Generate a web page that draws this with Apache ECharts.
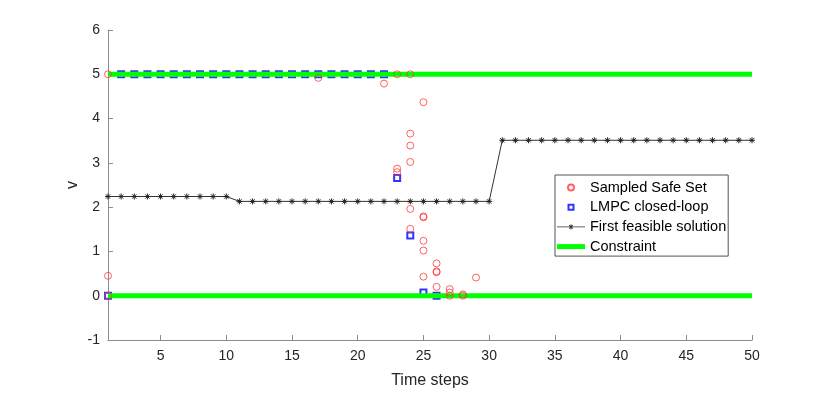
<!DOCTYPE html>
<html>
<head>
<meta charset="utf-8">
<script src="https://cdn.jsdelivr.net/npm/echarts@6/dist/echarts.min.js"></script>
<style>
  html, body { margin: 0; padding: 0; background: #fff; }
  #chart { width: 830px; height: 395px; }
</style>
</head>
<body>
<div id="chart"></div>
<script>
// data
const xTicks = [5, 10, 15, 20, 25, 30, 35, 40, 45, 50]

// Sampled Safe Set (step, v)
const safeSetStep = [1, 1, 1, 17, 22, 23, 23, 23, 24, 24, 24, 24, 24, 24, 25, 25, 25, 25, 25, 25, 26, 26, 26, 26, 27, 27, 27, 28, 28, 29]
const safeSetV = [5.0, 0.45, 0.0, 4.92, 4.79, 5.0, 2.87, 2.79, 5.0, 3.66, 3.39, 3.02, 1.96, 1.51, 4.37, 1.79, 1.77, 1.24, 1.02, 0.43, 0.73, 0.55, 0.53, 0.2, 0.15, 0.07, 0.0, 0.03, 0.0, 0.41]

// LMPC closed-loop, steps 1..26
const closedLoopV = [0, 5, 5, 5, 5, 5, 5, 5, 5, 5, 5, 5, 5, 5, 5, 5, 5, 5, 5, 5, 5, 5, 2.66, 1.36, 0.07, 0.0]

// First feasible solution, steps 1..50
const feasibleV = [
  2.24, 2.24, 2.24, 2.24, 2.24, 2.24, 2.24, 2.24, 2.24, 2.24,
  2.13, 2.13, 2.13, 2.13, 2.13, 2.13, 2.13, 2.13, 2.13, 2.13,
  2.13, 2.13, 2.13, 2.13, 2.13, 2.13, 2.13, 2.13, 2.13, 2.13,
  3.51, 3.51, 3.51, 3.51, 3.51, 3.51, 3.51, 3.51, 3.51, 3.51,
  3.51, 3.51, 3.51, 3.51, 3.51, 3.51, 3.51, 3.51, 3.51, 3.51
]

const upperLimit = 5
const lowerLimit = 0
const firstStep = 1
const lastStep = 50

const font = "'Liberation Sans', Arial, Helvetica, sans-serif"
const axisGray = '#8c8c8c'
const textDark = '#262626'

const withSteps = (vals) => vals.map((v, i) => [i + 1, v])

const starPath = 'path://M5,0L5,10M0,5L10,5M1.5,1.5L8.5,8.5M1.5,8.5L8.5,1.5'
// legend icons padded to the 28x8 legend slot so the marker stays small
const circleIcon = 'path://M0,0L0,0M28,8L28,8M17,4A3,3,0,1,1,11,4A3,3,0,1,1,17,4Z'
const squareIcon = 'path://M0,0L0,0M28,8L28,8M11.5,1.5L16.5,1.5L16.5,6.5L11.5,6.5Z'
const lineStarIcon = 'path://M0,0L0,0M28,8L28,8' +
  'M0,3.6L28,3.6L28,4.4L0,4.4Z' +
  'M13.6,1.4L14.4,1.4L14.4,6.6L13.6,6.6Z' +
  'M11.9,2.5L12.5,1.9L16.1,5.5L15.5,6.1Z' +
  'M15.5,1.9L16.1,2.5L12.5,6.1L11.9,5.5Z'
const thickLineIcon = 'path://M0,0L0,0M28,8L28,8M0,1.5L28,1.5L28,6.5L0,6.5Z'

const option = {
  animation: false,
  backgroundColor: '#fff',
  textStyle: { fontFamily: font },
  grid: { left: 108, right: 78, top: 30, bottom: 55 },
  legend: {
    orient: 'vertical',
    left: 555,
    top: 175,
    padding: [5, 2, 2, 1],
    itemWidth: 28,
    itemHeight: 8,
    itemGap: 4.7,
    backgroundColor: '#fff',
    borderColor: '#555',
    borderWidth: 1,
    textStyle: { fontFamily: font, fontSize: 14.5, color: '#000', lineHeight: 15 },
    data: [
      { name: 'Sampled Safe Set', icon: circleIcon },
      { name: 'LMPC closed-loop', icon: squareIcon },
      { name: 'First feasible solution', icon: lineStarIcon, itemStyle: { color: '#333', borderWidth: 0 } },
      { name: 'Constraint', icon: thickLineIcon, itemStyle: { color: '#00ff00', borderWidth: 0 } }
    ]
  },
  xAxis: {
    type: 'value',
    min: firstStep,
    max: lastStep,
    name: 'Time steps',
    nameLocation: 'middle',
    nameGap: 33,
    nameMoveOverlap: false,
    nameTextStyle: { fontFamily: font, fontSize: 16, color: textDark },
    axisLine: { onZero: false, lineStyle: { color: axisGray, width: 1 } },
    axisTick: { inside: true, length: 5, customValues: xTicks, lineStyle: { color: axisGray } },
    axisLabel: { customValues: xTicks, margin: 9, fontFamily: font, fontSize: 14, color: textDark },
    splitLine: { show: false }
  },
  yAxis: {
    type: 'value',
    min: -1,
    max: 6,
    interval: 1,
    name: 'v',
    nameLocation: 'middle',
    nameGap: 27,
    nameMoveOverlap: false,
    nameTextStyle: { fontFamily: font, fontSize: 16, color: textDark },
    axisLine: { show: true, onZero: false, lineStyle: { color: axisGray, width: 1 } },
    axisTick: { show: true, inside: true, length: 5, lineStyle: { color: axisGray } },
    axisLabel: { margin: 8, fontFamily: font, fontSize: 14, color: textDark },
    splitLine: { show: false }
  },
  series: [
    {
      name: 'Sampled Safe Set',
      type: 'scatter',
      z: 5,
      symbol: 'circle',
      symbolSize: 7,
      itemStyle: { color: 'rgba(0,0,0,0)', borderColor: '#ff3b3b', borderWidth: 1 },
      data: safeSetStep.map((s, i) => [s, safeSetV[i]])
    },
    {
      name: 'LMPC closed-loop',
      type: 'scatter',
      z: 2,
      symbol: 'rect',
      symbolSize: 6,
      itemStyle: { color: 'rgba(0,0,0,0)', borderColor: '#0000ff', borderWidth: 2 },
      data: withSteps(closedLoopV)
    },
    {
      name: 'First feasible solution',
      type: 'line',
      z: 3,
      symbol: starPath,
      symbolSize: 6,
      showAllSymbol: true,
      lineStyle: { color: '#333', width: 1 },
      itemStyle: { color: '#222', borderColor: '#222', borderWidth: 1 },
      data: withSteps(feasibleV)
    },
    {
      name: 'Constraint',
      type: 'line',
      z: 4,
      symbol: 'none',
      lineStyle: { color: '#00ff00', width: 5 },
      itemStyle: { color: '#00ff00' },
      data: [[firstStep, upperLimit], [lastStep, upperLimit]]
    },
    {
      name: 'Constraint',
      type: 'line',
      z: 4,
      symbol: 'none',
      lineStyle: { color: '#00ff00', width: 5 },
      itemStyle: { color: '#00ff00' },
      data: [[firstStep, lowerLimit], [lastStep, lowerLimit]]
    }
  ]
}

const chart = echarts.init(document.getElementById('chart'))
chart.setOption(option)
</script>
</body>
</html>
